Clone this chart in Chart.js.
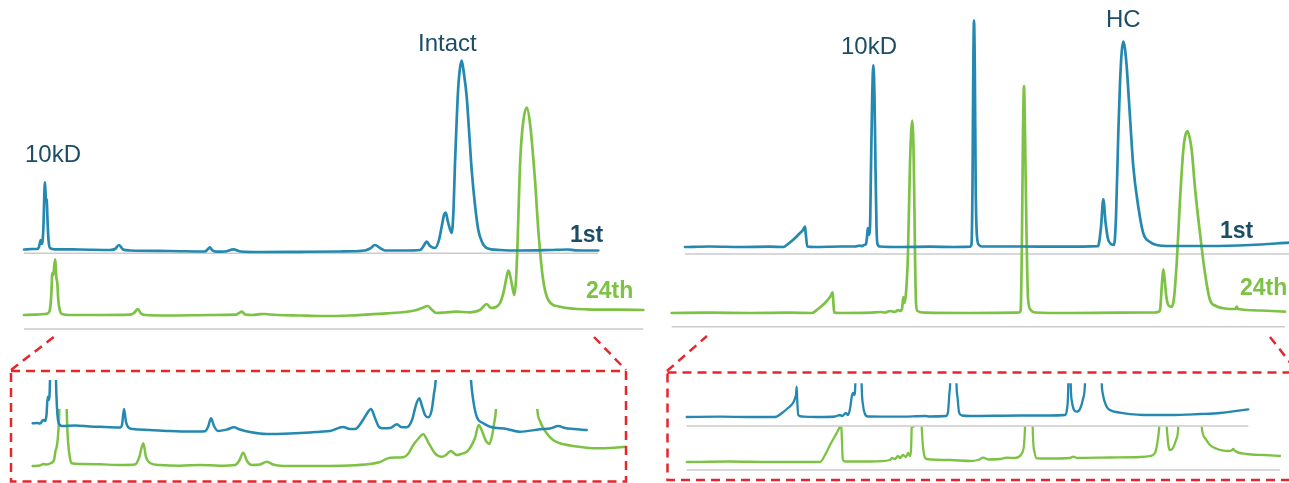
<!DOCTYPE html>
<html>
<head>
<meta charset="utf-8">
<title>CE-SDS repeatability: 1st vs 24th injection</title>
<script src="https://cdn.jsdelivr.net/npm/chart.js@4/dist/chart.umd.min.js"></script>
<style>
  html, body { margin: 0; padding: 0; background: #ffffff; }
  #stage { position: relative; width: 1289px; height: 483px; overflow: hidden; }
  #stage canvas { position: absolute; }
  #overlay { position: absolute; left: 0; top: 0; pointer-events: none; }
  .peak { font: 24px "Liberation Sans", Arial, sans-serif; fill: #1c4d66; }
  .run  { font: bold 23px "Liberation Sans", Arial, sans-serif; }
  .run1 { fill: #1c4d66; }
  .run24 { fill: #7dc244; }
  .zoomBox { fill: none; stroke: #e5262b; stroke-width: 2.5; stroke-dasharray: 9 6; }
</style>
</head>
<body>
<div id="stage">
  <canvas id="nonReducedChart"></canvas>
  <canvas id="reducedChart"></canvas>
  <canvas id="nonReducedZoomChart"></canvas>
  <canvas id="reducedZoomChart"></canvas>
  <svg id="overlay" width="1289" height="483">
    <!-- zoom frames with their callout lines -->
    <rect class="zoomBox" x="11" y="371" width="615" height="110.5"/>
    <line class="zoomBox" x1="11" y1="370" x2="55" y2="336"/>
    <line class="zoomBox" x1="594" y1="337" x2="626" y2="370"/>
    <rect class="zoomBox" x="667.5" y="372.5" width="700" height="107.5"/>
    <line class="zoomBox" x1="667" y1="371" x2="707" y2="336"/>
    <line class="zoomBox" x1="1270" y1="337" x2="1296" y2="370"/>
    <!-- peak names -->
    <text class="peak" x="25" y="162">10kD</text>
    <text class="peak" x="418" y="51">Intact</text>
    <text class="peak" x="841" y="54">10kD</text>
    <text class="peak" x="1106" y="27">HC</text>
    <!-- injection tags -->
    <text class="run run1" x="570" y="242">1st</text>
    <text class="run run24" x="586" y="298">24th</text>
    <text class="run run1" x="1220" y="237.5">1st</text>
    <text class="run run24" x="1240" y="295">24th</text>
  </svg>
</div>
<script>
// Injection labels
const seriesLabels = ['1st', '24th'];

// Electropherograms: [migration time (s), absorbance (mAU)]
// Non-reduced sample, full scale
const nonReduced1st = [
  [4,0.5],[12,1],[17,1],[19,3],[20.7,10],[22,6],[23.5,25],[24.3,55],[25,67.7],[25.8,52],[26.7,50],
  [27.5,30],[28.5,10],[30,2],[35,0.7],[60,0.5],[90,0],[95,1],[99,5],[103,0.5],[110,-0.5],[150,-1],
  [185,-1.5],[188,1],[190,2.7],[192,0],[196,-1.7],[205,-1.5],[213.3,0.7],[221,-1.5],[240,-2],[280,-1.8],
  [320,-1.5],[345,-0.5],[350,1.5],[355,5],[360,2],[365,-0.5],[385,-0.5],[400,0],[403,3],[406.7,8.3],
  [410,4],[415,2],[419,10],[422,25],[424,35],[425.7,37.3],[428,28],[431.7,17],[433.5,40],[435,87],
  [436.5,125],[437.7,153],[439.5,178],[441.7,189.3],[443.7,178],[446.7,153.3],[449,120],[451.7,80],
  [455,45],[458.3,20],[462,8],[466.7,2],[480,0],[500,-0.5],[530,0],[548,0.5],[555,-0.3],[578.3,-0.5]
];
const nonReduced24th = [
  [4,0],[15,0.3],[25,1],[28.3,2],[30,6],[31.3,20],[32.3,42],[33.3,40],[34.3,50],[35.3,55.7],[36.3,38],
  [37.3,32],[38.3,15],[40,4],[42,1],[50,0],[80,0],[110,0.3],[114,2],[117.7,6],[121,1.5],[125,0],
  [150,-0.5],[190,0],[216,0.3],[219,2],[222,3.3],[225,0.5],[232,0],[240,0.8],[245,1],[250,0.5],[258,0],
  [280,-0.5],[300,-1],[330,-0.5],[366.7,1.7],[385,3],[396.7,5],[402,7],[408,9],[412,5],[416.7,2],
  [425,2.5],[436.7,3.3],[450,2.7],[460,5],[466.7,11],[471,7],[476,8],[480,12],[483.3,21.7],[486,35],
  [488.3,44.3],[490,40],[491.7,31.7],[494.3,20],[496,35],[497.5,70],[499,120],[500.5,160],[503.3,194],
  [506.7,207.3],[510,191.7],[515,135],[518.3,85],[522.7,38.3],[528.3,15],[540,8.3],[566.7,5.7],
  [600,5.3],[623.3,5]
];
// Reduced sample, full scale
const reduced1st = [
  [15,0],[40,0.5],[70,0],[100,0.3],[113.3,0],[118,3],[124,8],[129,13],[133,17],[135,20.3],[135.7,14],
  [137.3,0.5],[145,0],[170,0.5],[185,0.5],[190,1.5],[192,0.8],[194,2],[196,3],[197,10],[197.8,19],
  [198.6,12],[200,20],[201,80],[202.2,150],[203.3,182],[204.5,150],[205.5,80],[206.5,20],[207.5,3],
  [210,0.5],[230,0],[260,0.3],[285,0],[300,0.3],[301.5,3],[302.5,60],[303.3,180],[304,226.3],
  [304.8,180],[305.7,60],[307,10],[309,2],[312,0.5],[350,0.5],[390,0.3],[428,0.8],[431,20],[433.3,47.7],
  [435.5,25],[438,8],[441,3],[444,2],[446,30],[448.3,114],[450,163.7],[451.7,195],[453.3,205.3],
  [455,198],[456.7,180.3],[460,130],[463.3,80.3],[468.3,40.3],[473.3,13.7],[480,5],[486.7,2],[500,1],
  [540,1],[580,2],[619,4.3]
];
const reduced24th = [
  [1.7,0],[40,0.3],[80,0],[120,0.3],[141.7,0],[148,4],[155,10],[160,16],[162.7,20.7],[163.4,10],
  [164.2,0.5],[170,0],[200,0.3],[210,1],[215,0.5],[220,2],[225,1],[228,3],[230,2],[232,4],[233.3,16],
  [234.5,10],[236,20],[238,60],[240,150],[242.3,192.3],[243.8,150],[245,60],[246,10],[247.5,2],
  [255,0.3],[300,0],[345,0.3],[349,0.5],[350.7,3],[352,80],[353,180],[354,227],[355,180],[356.5,80],
  [358,15],[360.7,3],[365,0.5],[400,0],[450,0.3],[485,0.5],[488,1],[490,3],[492,30],[493.3,43.7],
  [494.5,35],[496.5,15],[499,7],[501.7,6.3],[504,15],[507,55],[510,113],[513.3,163],[515,176],
  [517.3,182],[519.5,176],[521.7,163],[525,125],[530,79.7],[535,39.7],[540,13],[546,7],[553.3,4.7],
  [560,4],[565.5,4],[566.7,6.5],[568,4],[590,2.5],[615,1.3]
];
// Non-reduced sample, expanded absorbance scale
const nonReducedZoom1st = [
  [12.7,6.7],[17,7],[20,6.5],[23.3,10],[25,9],[26.5,15],[27.7,33.3],[28.8,30],[30,50],[31.5,160],
  [33,300],[34.5,160],[36,50],[37,22],[38,10],[40,5],[41.7,4],[55,4.5],[70,3.5],[85,3],[100,2.5],
  [102,5],[104,21],[106,8],[109,2],[113,1],[130,0],[150,-1],[170,-1.5],[185,-1.2],[188,3],[191,11.7],
  [194,4],[198,-1],[207,0.5],[214,2.7],[220,0.5],[230,-2],[246.7,-4],[270,-3.5],[290,-2.5],[300,-1.7],
  [310,-1],[323,3],[330,1],[335,1],[343,10],[346,15],[351,21],[355,12],[359,3],[363,1.7],[370,2],
  [377,5.7],[381,3],[386.7,2.7],[392,10],[396,25],[399.3,31.7],[402,24],[405,15],[408.3,12.7],
  [411.7,20],[414,36.7],[415.7,50],[418,110],[425,400],[433,830],[441,400],[448,110],[451,50],
  [452.7,33.3],[456.7,13.3],[463.3,6.7],[470,3.3],[486.7,1],[500,-1.7],[520,0.7],[530,1.5],
  [538.3,4],[545,2],[553.3,1],[566.7,0]
];
const nonReducedZoom24th = [
  [12.7,0],[20,0.5],[23.3,2],[27,1.5],[31,3],[34,6],[35.5,15],[36.7,19.3],[38,30],[39.3,57],[40.5,130],
  [43,300],[45.5,130],[46.7,57],[48,25],[50,8],[51.7,2.7],[60,2],[80,1.7],[100,1],[115,1.5],[119,8],
  [123.3,22.7],[126,9],[130,3],[140,1],[160,0.3],[180,1],[200,0.3],[215,1],[219,5],[223.3,13.3],
  [227,5],[232,1],[240,1.5],[246.7,4.3],[253,1.5],[260,0.3],[280,0],[300,0],[350,2],[360,4],[370,8.3],
  [383.3,8.7],[388,12],[393.3,21],[398,27],[403.3,31.7],[408,24],[415,12.7],[421.7,9.3],[426,11],
  [430.7,15],[436.7,11],[441,12],[446.7,14.3],[450,18],[455,28],[458.7,41],[462,35],[466,25],
  [469.3,22],[472,30],[474,42],[476,57],[480,150],[496.5,830],[513,150],[517.3,57],[520,45],
  [526.7,32.7],[533,26],[540,22.7],[553.3,20],[576.7,17.7],[590,18],[605,19.3]
];
// Reduced sample, expanded absorbance scale
const reducedZoom1st = [
  [16.7,0],[50,0.3],[80,0],[105,0],[112,4],[118,9],[123,14],[125,18.7],[126,22],[126.7,30.3],
  [127.3,15],[128.3,2],[132,0.5],[150,0],[165,0.5],[170,2],[172,1],[176,4],[178,2],[180,8],[181.7,20],
  [183,24],[184.3,22],[185.5,40],[188.5,400],[191.5,40],[193,12],[195,3],[198,0.5],[230,0.3],[255,1],
  [260,0.5],[276,1],[278,5],[279.5,25],[280.3,40],[283.3,450],[286.3,40],[287.5,20],[289,5],[292,1.5],
  [300,1],[350,1.5],[380,1.5],[395,2],[397,8],[398.3,33.7],[399.5,150],[400.7,33.7],[402,15],[404,7],
  [406.7,5.3],[410,8],[413,18],[415,33.7],[417,120],[423,500],[429,120],[431.7,33.7],[433,22],
  [436.7,10.3],[440,7],[450,4.3],[460,2.8],[473.3,2],[500,2],[530,3],[550,4],[578.3,7.7]
];
const reducedZoom24th = [
  [16.7,0],[60,0.5],[100,0],[150,0],[155,7],[160,17],[165,26],[168.3,32],[170,36],[171,40],[172,20],
  [172.7,3],[175,0.5],[200,0.5],[220,2],[222,4],[225,3],[228,6],[230,4],[233,7],[236,5],[238,9],
  [240,6],[241,12],[241.7,35.3],[242.5,60],[243.3,35],[244.5,50],[247,400],[250.5,60],[251.7,35.3],
  [253,15],[256.7,3],[280,2],[300,1],[308,2],[313.3,4.3],[318,2.5],[330,3],[336.7,4.3],[345,4],[350,6],
  [352.5,10],[355,35.3],[358.8,500],[362.7,35.3],[364.5,10],[366.7,3.7],[380,3.5],[400,4],[403.3,5.3],
  [407,4],[440,4.5],[470,5],[480,6],[485,9],[487.5,20],[489.3,35.3],[493,100],[496.7,35.3],[498.5,16],
  [500,12],[503,14],[506,22],[508.3,35.3],[520,450],[531.7,35.3],[535,24],[540,17],[546,13.5],
  [553.3,11.3],[558,11],[561.5,11.5],[563.3,13],[565,11],[576.7,8],[595,7],[610,6]
];

const BLUE = '#2488b0';
const GREEN = '#7dc244';

// Grey zero lines under each trace
const baselineRules = {
  id: 'baselineRules',
  beforeDatasetsDraw(chart, args, opts) {
    const { ctx, scales } = chart;
    ctx.save();
    ctx.strokeStyle = opts.color;
    ctx.lineWidth = opts.width;
    (opts.rules || []).forEach(r => {
      const y = scales[r.scale].getPixelForValue(r.value);
      ctx.beginPath();
      ctx.moveTo(scales.x.getPixelForValue(r.from), y);
      ctx.lineTo(scales.x.getPixelForValue(r.to), y);
      ctx.stroke();
    });
    ctx.restore();
  }
};

// Each panel: placement on the page, time offset, per-trace baseline and optional clip ceiling
const panels = [
  { id: 'nonReducedChart', left: 0, top: 0, w: 660, h: 345, t0: 20, lineWidth: 2.7,
    series: [ { data: nonReduced1st, base: 250, color: BLUE }, { data: nonReduced24th, base: 315, color: GREEN } ],
    rules: [ { scale: 'y0', value: -3.3, from: 4, to: 578.3 }, { scale: 'y1', value: -14, from: 4, to: 623.3 } ] },
  { id: 'reducedChart', left: 660, top: 0, w: 629, h: 345, t0: 670, lineWidth: 2.7,
    series: [ { data: reduced1st, base: 247, color: BLUE }, { data: reduced24th, base: 313, color: GREEN } ],
    rules: [ { scale: 'y0', value: -7, from: 15, to: 625 }, { scale: 'y1', value: -13.7, from: 1.7, to: 615 } ] },
  { id: 'nonReducedZoomChart', left: 0, top: 360, w: 660, h: 123, t0: 20, lineWidth: 2.5,
    series: [ { data: nonReducedZoom1st, base: 430, color: BLUE, ceiling: 50 },
              { data: nonReducedZoom24th, base: 466, color: GREEN, ceiling: 57 } ],
    rules: [] },
  { id: 'reducedZoomChart', left: 660, top: 360, w: 629, h: 123, t0: 670, lineWidth: 2.3,
    series: [ { data: reducedZoom1st, base: 417, color: BLUE, ceiling: 33.7 },
              { data: reducedZoom24th, base: 462, color: GREEN, ceiling: 35.3 } ],
    rules: [ { scale: 'y0', value: -9, from: 16.7, to: 578.3 }, { scale: 'y1', value: -8, from: 16.7, to: 610 } ] }
];

panels.forEach(p => {
  const canvas = document.getElementById(p.id);
  canvas.width = p.w;
  canvas.height = p.h;
  canvas.style.left = p.left + 'px';
  canvas.style.top = p.top + 'px';

  const scales = {
    x: { type: 'linear', display: false, min: p.left - p.t0, max: p.left + p.w - p.t0 }
  };
  const datasets = p.series.map((s, i) => {
    const axis = 'y' + i;
    scales[axis] = { type: 'linear', display: false, min: s.base - (p.top + p.h), max: s.base - p.top };
    const ds = {
      label: seriesLabels[i],
      data: s.data.map(([x, y]) => ({ x, y })),
      yAxisID: axis,
      borderColor: s.color,
      borderWidth: p.lineWidth,
      borderJoinStyle: 'round',
      borderCapStyle: 'round',
      pointRadius: 0,
      fill: false,
      cubicInterpolationMode: 'monotone'
    };
    ds.clip = (s.ceiling === undefined)
      ? false
      : { left: 0, right: 0, bottom: 0, top: -((s.base - p.top) - s.ceiling) };
    return ds;
  });

  new Chart(canvas, {
    type: 'line',
    data: { datasets },
    plugins: [baselineRules],
    options: {
      responsive: false,
      animation: false,
      events: [],
      layout: { padding: 0 },
      scales,
      plugins: {
        legend: { display: false },
        tooltip: { enabled: false },
        baselineRules: { rules: p.rules, color: '#cbcbcb', width: 1.6 }
      }
    }
  });
});
</script>
</body>
</html>
